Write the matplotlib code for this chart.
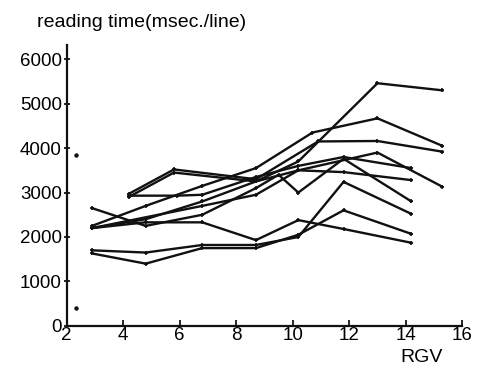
import matplotlib
matplotlib.use("Agg")
import matplotlib.pyplot as plt

plt.rcParams['font.family'] = ['Liberation Sans', 'DejaVu Sans']

# RGV values and reading times (msec/line) per subject
rgv_a = [2.9, 4.8, 6.8, 8.7, 10.2, 13.0, 15.3]
time_a = [2200, 2400, 2800, 3250, 3700, 5460, 5300]
rgv_b = [2.9, 4.8, 6.8, 8.7, 10.7, 13.0, 15.3]
time_b = [2250, 2700, 3150, 3550, 4350, 4670, 4050]
rgv_c = [4.2, 5.8, 8.7, 10.9, 13.0, 15.3]
time_c = [2970, 3520, 3300, 4150, 4160, 3920]
rgv_d = [4.2, 5.8, 8.7, 10.2, 13.0, 15.3]
time_d = [2900, 3450, 3250, 3500, 3900, 3130]
rgv_e = [4.2, 5.9, 6.8, 8.7, 10.2, 11.8, 14.2]
time_e = [2930, 2930, 2950, 3350, 3600, 3800, 3550]
rgv_f = [2.9, 6.8, 8.7, 10.2, 11.8, 14.2]
time_f = [2200, 2700, 2950, 3500, 3460, 3280]
rgv_g = [2.9, 4.8, 6.8, 8.7, 9.5, 10.2, 11.8, 14.2]
time_g = [2650, 2250, 2500, 3100, 3400, 3000, 3760, 2800]
rgv_h = [2.9, 4.8, 6.8, 8.7, 10.2, 11.8, 14.2]
time_h = [2200, 2330, 2330, 1930, 2380, 2180, 1870]
rgv_i = [2.9, 4.8, 6.8, 8.7, 10.2, 11.8, 14.2]
time_i = [1700, 1650, 1820, 1820, 2000, 3240, 2520]
rgv_j = [2.9, 4.8, 6.8, 8.7, 10.2, 11.8, 14.2]
time_j = [1630, 1400, 1750, 1750, 2050, 2600, 2070]

# two isolated points near the axis
dots_rgv = [2.35, 2.35]
dots_time = [3840, 400]

subjects = [(rgv_a, time_a), (rgv_b, time_b), (rgv_c, time_c), (rgv_d, time_d),
            (rgv_e, time_e), (rgv_f, time_f), (rgv_g, time_g), (rgv_h, time_h),
            (rgv_i, time_i), (rgv_j, time_j)]

fig = plt.figure(figsize=(4.79, 3.72), dpi=100)
ax = fig.add_axes([0.139, 0.124, 0.826, 0.755])

for xs, ys in subjects:
    ax.plot(xs, ys, color='#111111', lw=1.7, marker='+', ms=3.5, mew=1.2)
ax.plot(dots_rgv, dots_time, ls='none', marker='o', ms=2.2, color='#111111')

ax.set_xlim(2, 16)
ax.set_ylim(0, 6320)
ax.set_xticks([2, 4, 6, 8, 10, 12, 14, 16])
ax.set_yticks([0, 1000, 2000, 3000, 4000, 5000, 6000])
ax.spines['top'].set_visible(False)
ax.spines['right'].set_visible(False)
for s in ['left', 'bottom']:
    ax.spines[s].set_linewidth(1.6)
    ax.spines[s].set_color('#111111')
ax.tick_params(axis='y', direction='inout', length=5, width=1.2, labelsize=13.5, pad=1)
ax.tick_params(axis='x', direction='in', length=4, width=1.2, labelsize=13.5, pad=1)

fig.text(0.077, 0.94, 'reading time(msec./line)', fontsize=14, va='center', ha='left')
fig.text(0.881, 0.038, 'RGV', fontsize=14, va='center', ha='center')

fig.savefig('out.png', dpi=100)
